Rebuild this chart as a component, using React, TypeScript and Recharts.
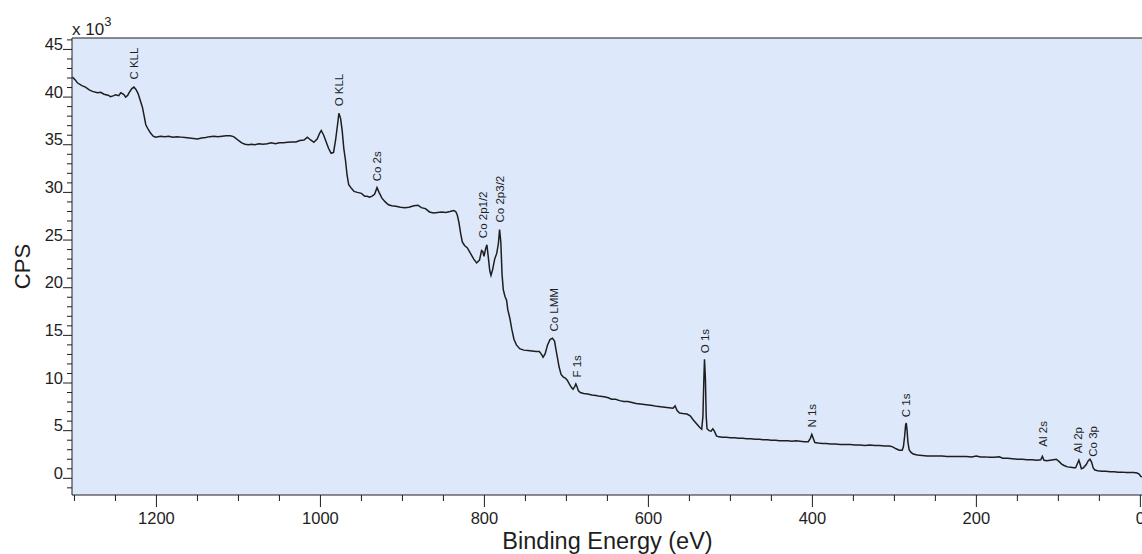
import React from 'react';
import { ComposedChart, Line, Scatter, XAxis, YAxis, CartesianGrid, ReferenceLine } from 'recharts';

// XPS survey spectrum, counts in units of 10^3 CPS
const bindingEnergy = [
  1302.5, 1299, 1296.5, 1291, 1286.5, 1282, 1278, 1272, 1268, 1264, 1259, 1256, 1252, 1250, 1246, 1243.5, 1240,
  1237.5, 1235, 1233.5, 1230, 1227.5, 1225, 1222.5, 1219.5, 1217, 1215, 1213, 1210, 1207, 1204, 1201, 1195, 1190,
  1185, 1180, 1175, 1170, 1165, 1160, 1155, 1150, 1145, 1140, 1135, 1130, 1125, 1120, 1115, 1110, 1106, 1103.5,
  1100, 1096, 1092, 1088, 1084, 1080, 1075, 1070, 1065, 1060, 1055, 1050, 1045, 1040, 1035, 1030, 1025, 1020, 1016,
  1012, 1008, 1004, 1001, 999, 996, 993, 990, 987, 984, 981.5, 979, 977.5, 975.5, 973.5, 971.5, 969.5, 967.5, 965.5,
  962, 959, 955, 950, 946, 943, 940, 937, 934, 931, 928.5, 925, 921, 917, 913, 908, 902.5, 897, 892, 886, 881, 877,
  872, 867, 862, 857, 852, 847, 842, 837.5, 835, 833, 831, 829, 827, 824, 821, 817, 813, 809.5, 806, 803.5, 802,
  800.5, 798.5, 797, 795.5, 793.5, 792, 790, 787.5, 785, 783, 781.5, 780, 778.5, 777, 775, 773, 771.5, 769, 766.5,
  764, 761, 757, 752, 747, 742, 737, 733, 730, 728.5, 726, 723, 720, 717, 714.5, 712.5, 711, 709, 706.5, 704, 701,
  699, 696.5, 694, 692, 690, 688.5, 687, 685.5, 683, 679, 674, 669, 664, 659, 654, 649, 645, 640, 635, 630, 625,
  620, 615, 610, 605, 600, 595, 590, 585, 580, 575, 570, 567.5, 565, 562, 558, 553, 549, 545, 541, 537, 535, 533.5,
  532.5, 531.6, 530.5, 529.5, 528.5, 526, 523.5, 521.5, 519.5, 517, 514, 510, 505, 500, 495, 490, 485, 480, 475,
  470, 465, 460, 455, 450, 445, 440, 435, 430, 425, 420, 415, 410, 405, 402.5, 400.7, 399, 397, 393, 388, 383, 378,
  372, 366, 360, 354, 348, 342, 336, 330, 324, 318, 312, 306, 302, 298, 294, 290.5, 289, 287.5, 286.3, 285.5, 284.5,
  283.5, 282, 280, 277, 272, 266, 260, 254, 248, 242, 236, 230, 224, 218, 212, 206, 200, 195, 190, 184, 178, 172,
  168, 162, 156, 150, 144, 138, 132, 126, 121.5, 119.5, 117.5, 114, 110, 106, 102.5, 99, 96, 93, 89, 85, 81, 79, 77,
  75, 73.5, 72, 69.5, 66, 63.5, 61.5, 59.5, 57.5, 55.5, 52, 47, 42, 37, 32, 27, 22, 17, 12, 8, 4, 1.5, -0.5, -2,
];

const counts = [
  42.1, 41.8, 41.5, 41.2, 41.05, 40.75, 40.6, 40.45, 40.5, 40.3, 40.2, 40.05, 40.15, 40.25, 40.15, 40.45, 40.3,
  40.0, 40.2, 40.45, 40.9, 41.05, 40.8, 40.4, 39.6, 38.9, 38.0, 37.1, 36.6, 36.2, 35.9, 35.8, 35.9, 35.85,
  35.9, 35.8, 35.85, 35.8, 35.75, 35.7, 35.65, 35.6, 35.7, 35.75, 35.85, 35.9, 35.85, 35.9, 35.95, 35.95, 35.85, 35.7,
  35.45, 35.2, 35.05, 35.0, 35.05, 35.0, 35.1, 35.05, 35.1, 35.2, 35.1, 35.2, 35.2, 35.25, 35.3, 35.3, 35.45, 35.5, 35.8,
  35.5, 35.25, 35.6, 36.2, 36.5, 36.0, 35.3, 34.6, 34.1, 34.2, 35.5, 37.2, 38.3, 37.8, 36.5, 34.6, 33.4, 31.8, 30.8,
  30.4, 30.1, 30.0, 29.9, 29.6, 29.6, 29.5, 29.6, 29.8, 30.5, 30.0, 29.4, 29.0, 28.7, 28.6, 28.55, 28.45, 28.4, 28.45, 28.6, 28.65, 28.4,
  28.3, 27.95, 27.85, 27.9, 27.95, 27.9, 28.0, 28.1, 28.0, 27.6, 26.8, 25.7, 24.8, 24.4, 24.2, 23.6, 23.0, 22.6, 22.9, 23.9, 23.8,
  23.3, 24.1, 24.5, 23.4, 21.8, 21.3, 21.9, 23.0, 23.6, 24.6, 26.1, 24.8, 21.4, 19.8, 19.1, 18.7, 17.7, 16.8, 15.6,
  14.6, 14.0, 13.6, 13.45, 13.4, 13.35, 13.3, 13.3, 12.95, 12.7, 13.05, 14.0, 14.55, 14.7, 14.4, 13.4, 12.7, 11.7, 10.9, 10.65, 10.5,
  10.3, 9.9, 9.55, 9.35, 9.6, 9.9, 9.6, 9.2, 9.0, 8.9, 8.85, 8.75, 8.7, 8.6, 8.55, 8.45, 8.3, 8.3, 8.15, 8.05, 8.05,
  7.95, 7.85, 7.8, 7.75, 7.7, 7.65, 7.55, 7.5, 7.45, 7.4, 7.35, 7.6, 7.1, 6.85, 6.8, 6.75, 6.55, 6.1, 5.7, 5.3, 5.15, 6.5,
  10.0, 12.5, 10.5, 6.5, 5.2, 5.0, 4.95, 5.2, 4.95, 4.45, 4.35, 4.3, 4.3, 4.25, 4.25, 4.2, 4.2, 4.15, 4.15,
  4.1, 4.1, 4.05, 4.05, 4.0, 4.0, 3.95, 3.95, 3.95, 3.9, 3.95, 3.9, 3.85, 3.85, 4.2, 4.6, 4.2, 3.75, 3.7, 3.65, 3.65, 3.6,
  3.6, 3.55, 3.55, 3.55, 3.5, 3.5, 3.45, 3.5, 3.45, 3.45, 3.4, 3.4, 3.3, 3.1, 2.95, 2.95, 3.3, 4.4, 5.6, 5.8, 5.0,
  3.8, 3.0, 2.75, 2.55, 2.45, 2.4, 2.35, 2.35, 2.35, 2.35, 2.3, 2.3, 2.3, 2.3, 2.3, 2.25, 2.35, 2.25, 2.25, 2.2, 2.2, 2.25,
  2.1, 2.1, 2.05, 2.0, 2.0, 1.95, 1.95, 1.9, 1.95, 2.3, 1.9, 1.85, 1.9, 1.95, 2.0, 1.75, 1.5, 1.35, 1.2, 1.15, 1.1, 1.1, 1.5,
  1.9, 1.5, 1.0, 1.1, 1.45, 1.85, 2.0, 1.7, 1.1, 0.87, 0.8, 0.75, 0.75, 0.7, 0.7, 0.65, 0.65, 0.6, 0.6, 0.6, 0.55, 0.45, 0.2, 0.15,
];

// peak annotations: name, energy, and the count level where the label starts
const peakNames = ['C KLL', 'O KLL', 'Co 2s', 'Co 2p1/2', 'Co 2p3/2', 'Co LMM', 'F 1s', 'O 1s', 'N 1s', 'C 1s', 'Al 2s', 'Al 2p', 'Co 3p'];
const peakEnergy = [1227.5, 977.7, 930.9, 801.7, 781.5, 714.8, 687.1, 531.6, 400.7, 285.8, 119.2, 76.5, 57.5];
const peakLabelBase = [41.84, 39.03, 31.16, 25.2, 26.85, 15.4, 10.57, 13.13, 5.32, 6.41, 3.32, 2.63, 2.27];

const xMajorTicks = [0, 200, 400, 600, 800, 1000, 1200];
const yMajorTicks = [0, 5, 10, 15, 20, 25, 30, 35, 40, 45];
const xAllTicks = Array.from({ length: 27 }, (_, i) => i * 50);
const yAllTicks = Array.from({ length: 48 }, (_, i) => i - 1);

const X_DOMAIN: [number, number] = [-2, 1303];
const Y_DOMAIN: [number, number] = [-1.75, 46.2];

const INK = '#1e1e1e';
const FONT = '"Liberation Sans", Arial, sans-serif';

const spectrum = bindingEnergy.map((be, i) => ({ be, cps: counts[i] }));
const peaks = peakNames.map((name, i) => ({ be: peakEnergy[i], cps: peakLabelBase[i], name }));

const YTick = (props: any) => {
  const { x, y, payload } = props;
  const major = yMajorTicks.includes(payload.value);
  return (
    <g>
      <line x1={x} x2={x - (major ? 9 : 5)} y1={y} y2={y} stroke={INK} strokeWidth={1} />
      {major && (
        <text x={x - 9} y={y + 0.5} textAnchor="end" fontSize={16.5} fontFamily={FONT} fill={INK}>
          {payload.value}
        </text>
      )}
    </g>
  );
};

const XTick = (props: any) => {
  const { x, y, payload } = props;
  const major = xMajorTicks.includes(payload.value);
  return (
    <g>
      <line x1={x} x2={x} y1={y} y2={y + (major ? 12 : 6)} stroke={INK} strokeWidth={1} />
      {major && (
        <text x={x} y={y + 29} textAnchor="middle" fontSize={16.5} fontFamily={FONT} fill={INK}>
          {payload.value}
        </text>
      )}
    </g>
  );
};

const PeakLabel = (props: any) => {
  const { cx, cy, payload } = props;
  return (
    <text
      x={cx}
      y={cy}
      dy="0.36em"
      transform={`rotate(-90 ${cx} ${cy})`}
      fontSize={11.5}
      fontFamily={FONT}
      fill={INK}
    >
      {payload.name}
    </text>
  );
};

export default function App() {
  return (
    <div style={{ position: 'absolute', left: 0, top: 0, width: 1142, height: 554, background: '#fff' }}>
      <ComposedChart width={1142} height={554} data={spectrum} margin={{ top: 38, right: 0, bottom: 0, left: 0 }}>
        <CartesianGrid fill="#dde9fb" horizontal={false} vertical={false} />
        <XAxis
          dataKey="be"
          type="number"
          domain={X_DOMAIN}
          reversed
          allowDataOverflow
          ticks={xAllTicks}
          interval={0}
          tick={<XTick />}
          tickLine={false}
          tickSize={0}
          tickMargin={0}
          axisLine={{ stroke: INK }}
          height={59}
        />
        <YAxis
          dataKey="cps"
          type="number"
          domain={Y_DOMAIN}
          allowDataOverflow
          ticks={yAllTicks}
          interval={0}
          tick={<YTick />}
          tickLine={false}
          tickSize={0}
          tickMargin={0}
          axisLine={{ stroke: INK }}
          width={72}
        />
        <ReferenceLine y={Y_DOMAIN[1]} stroke={INK} ifOverflow="visible" />
        <Line
          dataKey="cps"
          type="linear"
          stroke={INK}
          strokeWidth={1.5}
          dot={false}
          isAnimationActive={false}
        />
        <Scatter data={peaks} dataKey="cps" shape={<PeakLabel />} isAnimationActive={false} />
      </ComposedChart>
      <svg width={1142} height={554} style={{ position: 'absolute', left: 0, top: 0, pointerEvents: 'none' }}>
        <text x={72} y={35} fontSize={17} fontFamily={FONT} fill={INK}>
          x 10
          <tspan dy={-9} fontSize={13}>3</tspan>
        </text>
        <text
          x={22.5}
          y={266.5}
          dy="0.36em"
          transform="rotate(-90 22.5 266.5)"
          textAnchor="middle"
          fontSize={22}
          fontFamily={FONT}
          fill={INK}
        >
          CPS
        </text>
        <text x={607.5} y={548.5} textAnchor="middle" fontSize={23.5} fontFamily={FONT} fill={INK}>
          Binding Energy (eV)
        </text>
      </svg>
    </div>
  );
}
